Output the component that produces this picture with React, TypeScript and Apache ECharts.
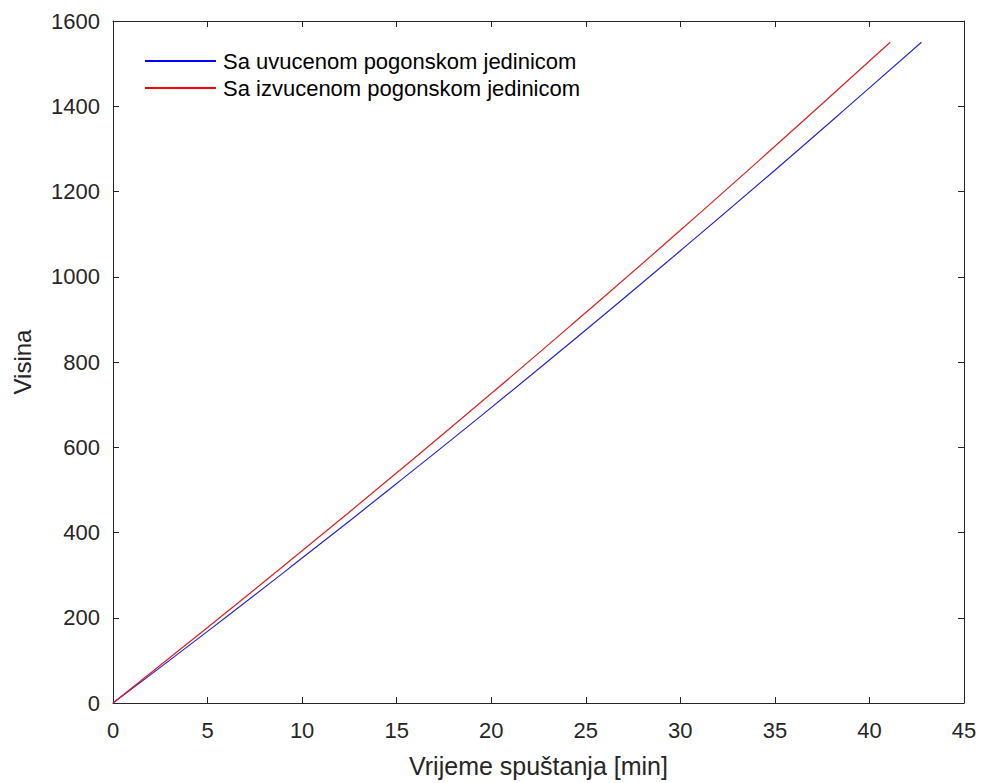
import React, { useEffect, useRef } from "react";
import * as echarts from "echarts";

const xTicks = [0, 5, 10, 15, 20, 25, 30, 35, 40, 45];
const yTicks = [0, 200, 400, 600, 800, 1000, 1200, 1400, 1600];

const seriesNames = ["Sa uvucenom pogonskom jedinicom", "Sa izvucenom pogonskom jedinicom"];

const blueX = [0, 5, 10, 15, 20, 25, 30, 35, 40, 42.75];
const blueY = [0, 168, 340, 515, 693, 875, 1061, 1250, 1443, 1550];

const redX = [0, 5, 10, 15, 20, 25, 30, 35, 40, 41.1];
const redY = [0, 177, 357, 540, 726, 916, 1109, 1306, 1506, 1550];

const FONT = "'Liberation Sans', Arial, sans-serif";
const AXIS = "#262626";

export default function App() {
  const ref = useRef<HTMLDivElement>(null);
  useEffect(() => {
    if (!ref.current) return;
    const chart = echarts.init(ref.current, undefined, { renderer: "svg" });
    const baseX = {
      type: "value" as const,
      min: xTicks[0],
      max: xTicks[xTicks.length - 1],
      interval: 5,
      splitLine: { show: false },
      axisLine: { show: true, onZero: false, lineStyle: { color: AXIS, width: 1 } },
      axisTick: { show: true, inside: true, length: 6, lineStyle: { color: AXIS } },
    };
    const baseY = {
      type: "value" as const,
      min: yTicks[0],
      max: yTicks[yTicks.length - 1],
      interval: 200,
      splitLine: { show: false },
      axisLine: { show: true, onZero: false, lineStyle: { color: AXIS, width: 1 } },
      axisTick: { show: true, inside: true, length: 6, lineStyle: { color: AXIS } },
    };
    chart.setOption({
      animation: false,
      backgroundColor: "#ffffff",
      grid: { left: 113, right: 18, top: 21, bottom: 79, containLabel: false },
      legend: {
        orient: "vertical",
        left: 140,
        top: 45,
        itemWidth: 71,
        itemHeight: 2,
        itemGap: 5,
        icon: "rect",
        textStyle: { fontFamily: FONT, fontSize: 22, color: "#000000", padding: [0, 0, 0, 2] },
        data: seriesNames,
      },
      xAxis: [
        {
          ...baseX,
          position: "bottom",
          name: "Vrijeme spuštanja [min]",
          nameLocation: "middle",
          nameGap: 50,
          nameTextStyle: { fontFamily: FONT, fontSize: 25, color: AXIS },
          axisLabel: { fontFamily: FONT, fontSize: 22, color: AXIS, margin: 16 },
        },
        { ...baseX, position: "top", axisLabel: { show: false } },
      ],
      yAxis: [
        {
          ...baseY,
          position: "left",
          name: "Visina",
          nameLocation: "middle",
          nameGap: 79,
          nameTextStyle: { fontFamily: FONT, fontSize: 24, color: AXIS },
          axisLabel: {
            fontFamily: FONT,
            fontSize: 22,
            color: AXIS,
            margin: 13,
            formatter: (v: number) => String(v),
          },
        },
        { ...baseY, position: "right", axisLabel: { show: false } },
      ],
      series: [
        {
          name: seriesNames[0],
          type: "line",
          symbol: "none",
          smooth: true,
          color: "#0000ff",
          lineStyle: { color: "#2424d9", width: 1.2 },
          data: blueX.map((x, i) => [x, blueY[i]]),
        },
        {
          name: seriesNames[1],
          type: "line",
          symbol: "none",
          smooth: true,
          color: "#ff0000",
          lineStyle: { color: "#e01f1f", width: 1.2 },
          data: redX.map((x, i) => [x, redY[i]]),
        },
      ],
    });
    return () => chart.dispose();
  }, []);
  return <div ref={ref} style={{ width: 982, height: 783, position: "absolute", left: 0, top: 0 }} />;
}
